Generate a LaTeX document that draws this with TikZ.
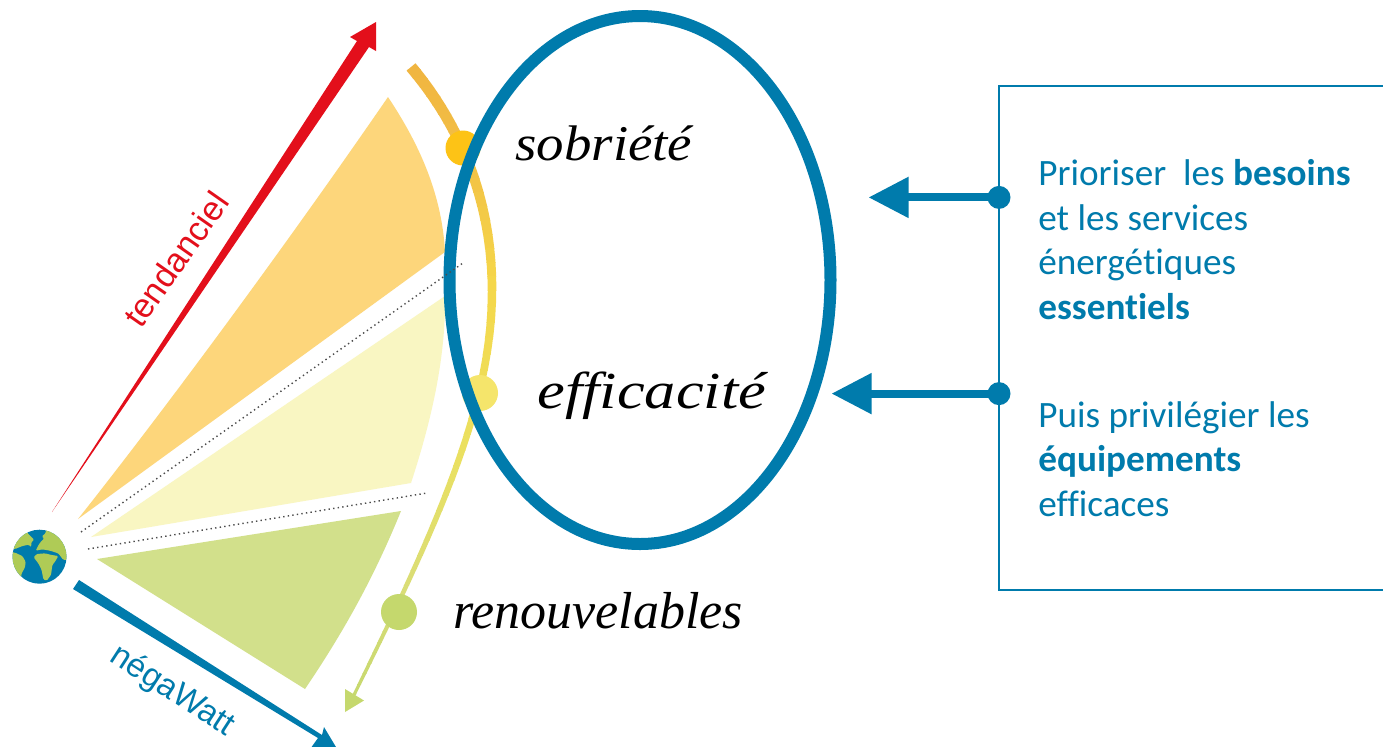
\documentclass[tikz,border=0pt]{standalone}
\usepackage{fontspec}
\setmainfont{Carlito}[Ligatures=CommonOff]
\newfontfamily\handfont{Liberation Serif}
\newfontfamily\labelfont{Liberation Sans}
\usetikzlibrary{arrows.meta}
\definecolor{nwblue}{HTML}{007BAC}
\definecolor{trendred}{HTML}{E30F1B}
\definecolor{petalorange}{HTML}{FDD67B}
\definecolor{petalyellow}{HTML}{F9F6C2}
\definecolor{petalgreen}{HTML}{D2E08B}
\definecolor{dotorange}{HTML}{FDC316}
\definecolor{dotyellow}{HTML}{F5E56B}
\definecolor{dotgreen}{HTML}{C5D86D}
\definecolor{landgreen}{HTML}{AFCB56}
\definecolor{arcA}{HTML}{F0B440}
\definecolor{arcB}{HTML}{F2BF45}
\definecolor{arcC}{HTML}{F5D84A}
\definecolor{arcD}{HTML}{EBE060}
\definecolor{arcE}{HTML}{D8DD78}
\definecolor{arcF}{HTML}{C5D86D}
\tikzset{
  stepdot/.style={circle,inner sep=0pt,minimum size=#1*0.5pt},
  handtext/.style={inner sep=0pt,anchor=base west},
  boxtext/.style={inner sep=0pt,anchor=north west,align=left,text=nwblue,font=\fontsize{18.6}{22.25}\selectfont},
  dotline/.style={draw=black!70,line width=0.7pt,dash pattern=on 0.7pt off 1.6pt},
  bluearrow/.style={nwblue,line width=4pt,-{Triangle[length=20pt,width=19.5pt]}}
}
\def\arcpath{(411,67) .. controls (460,125) and (492,200) .. (492,290) .. controls (492,400) and (445,510) .. (353,697)}
\begin{document}
\begin{tikzpicture}[x=0.5pt,y=-0.5pt]
\clip (0,0) rectangle (1383,746);
\fill[white] (0,0) rectangle (1383,746);
% petals
\fill[petalorange] (78,519) .. controls (180,390) and (300,225) .. (388,97)
  .. controls (420,145) and (442,195) .. (445,252) -- cycle;
\fill[petalyellow] (91,537) -- (445,296) .. controls (446,360) and (430,425) .. (411,483) -- cycle;
\fill[petalgreen] (97,559) -- (401,511) .. controls (375,575) and (345,630) .. (305,689) -- cycle;
% tapered, graded arc
\foreach \ya/\yb/\ca/\cb in {60/150/arcA/arcB,150/290/arcB/arcC,290/450/arcC/arcD,450/600/arcD/arcE,600/705/arcE/arcF}{
  \foreach \i in {0,...,9}{
    \pgfmathsetmacro\yo{\ya+(\yb-\ya)*\i/10}
    \pgfmathsetmacro\yt{\ya+(\yb-\ya)*(\i+1)/10+0.4}
    \pgfmathsetmacro\pct{100*(1-(\i+0.5)/10)}
    \pgfmathsetmacro\wd{(12.5-0.0135*(\yo+\yt)/2)*0.5}
    \begin{scope}
      \clip (300,\yo) rectangle (560,\yt);
      \draw[color=\ca!\pct!\cb,line width=\wd pt] \arcpath;
    \end{scope}
  }
}
\fill[dotgreen] (345,689) -- (364,700.5) -- (345,712) -- cycle;
% dots on the arc
\node[stepdot=35,fill=dotorange] (dotS) at (463,148) {};
\node[stepdot=36,fill=dotyellow] (dotE) at (480,393) {};
\node[stepdot=36,fill=dotgreen] (dotR) at (399,612) {};
% ellipse
\draw[nwblue,line width=6pt] (640,280) ellipse [x radius=190.5,y radius=264];
% dotted separators
\coordinate (dotAa) at (81,532); \coordinate (dotAb) at (463,263);
\coordinate (dotBa) at (88,549); \coordinate (dotBb) at (427,493);
\draw[dotline] (dotAa) -- (dotAb);
\draw[dotline] (dotBa) -- (dotBb);
% red arrow
\fill[trendred] (52,512) -- (357,41) -- (350,37) -- (376,22) -- (376,51) -- (369,47) -- cycle;
\node[inner sep=0pt,rotate=55,text=trendred,font=\labelfont\fontsize{17}{17}\selectfont] (tend) at (176,259) {tendanciel};
% blue arrow
\fill[nwblue] (73,589) -- (79,580) -- (322,735) -- (324,727) -- (342,757) -- (308,752) -- (318,738) -- cycle;
\node[inner sep=0pt,rotate=-33,text=nwblue,font=\labelfont\fontsize{16.5}{17}\selectfont] (nega) at (172,691) {négaWatt};
% globe
\node[circle,fill=nwblue,inner sep=0pt,minimum size=27pt] (globe) at (39.5,556.7) {};
\begin{scope}
  \clip (39.5,556.7) circle (27);
  \begin{scope}[shift={(5,520)},scale=1/3,rounded corners=0.6pt]
    \fill[landgreen] (10,85) -- (30,87) -- (52,78) -- (72,74) -- (78,82) -- (80,64) -- (88,60) -- (68,40) -- (60,25) -- (10,40) -- cycle;
    \fill[landgreen] (10,95) -- (30,98) -- (52,108) -- (62,125) -- (60,142) -- (50,160) -- (46,185) -- (10,185) -- cycle;
    \fill[landgreen] (122,25) -- (123,38) -- (110,50) -- (118,55) -- (105,68) -- (98,80) -- (92,92) -- (112,88) -- (135,92) -- (160,100) -- (175,120) -- (195,118) -- (195,25) -- cycle;
    \fill[landgreen] (86,112) -- (95,102) -- (120,100) -- (140,105) -- (160,108) -- (150,125) -- (142,135) -- (138,165) -- (125,182) -- (115,178) -- (110,150) -- (100,130) -- cycle;
  \end{scope}
\end{scope}
% hand-written labels
\node[handtext,font=\handfont\itshape\fontsize{25}{25}\selectfont] (sob) at (515,160) {\scalebox{1.098}[1]{sobriété}};
\node[handtext,font=\handfont\itshape\fontsize{26}{26}\selectfont] (eff) at (537,408) {\scalebox{1.2}[1]{efficacité}};
\node[handtext,font=\handfont\itshape\fontsize{26}{26}\selectfont] (ren) at (453,628) {renouvelables};
% right box
\draw[nwblue,line width=1.25pt] (1395,86) -- (999,86) -- (999,590) -- (1395,590);
\node[stepdot=23,fill=nwblue] (dotA) at (999,197.4) {};
\node[stepdot=23,fill=nwblue] (dotB) at (999,393.6) {};
\coordinate (tipA) at (868.5,197.4);
\coordinate (tipB) at (831.5,393.6);
\draw[bluearrow] (dotA.center) -- (tipA);
\draw[bluearrow] (dotB.center) -- (tipB);
\node[boxtext] (txtA) at (1038,159) {Prioriser\ \ les \textbf{besoins}\\et les services\\énergétiques\\\textbf{essentiels}};
\node[boxtext] (txtB) at (1038,401) {Puis privilégier les\\\textbf{équipements}\\efficaces};
\end{tikzpicture}
\end{document}
